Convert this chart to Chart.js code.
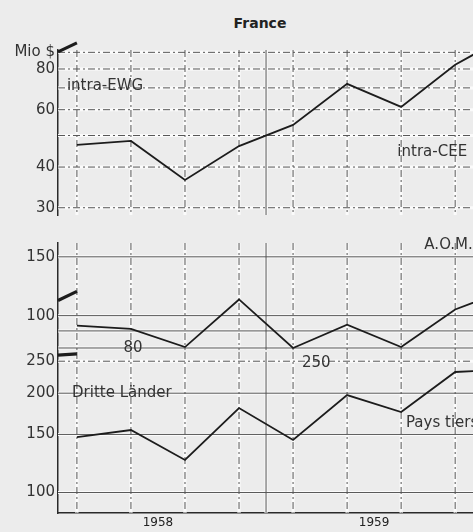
<!DOCTYPE html>
<html>
<head>
<meta charset="utf-8">
<title>France</title>
<script src="https://cdn.jsdelivr.net/npm/chart.js@4"></script>
<style>
    html, body { margin: 0; padding: 0; background: #ececec; }
    #page { position: relative; width: 473px; height: 532px; overflow: hidden; }
    #page canvas { position: absolute; left: 0; }
    #title {
        position: absolute; top: 15px; left: 200px; width: 120px;
        text-align: center; font: bold 14px "DejaVu Sans", sans-serif; color: #222;
    }
</style>
</head>
<body>
<div id="page">
    <div id="title">France</div>
    <canvas id="ewgChart" width="473" height="222" style="top:0"></canvas>
    <canvas id="aomChart" width="473" height="140" style="top:222px"></canvas>
    <canvas id="thirdChart" width="473" height="187" style="top:345px"></canvas>
</div>
<script>
/* ============================================
   DATA (quarterly, Mio $)
   ============================================ */
const quarters = ['1958 I', '1958 II', '1958 III', '1958 IV', '1959 I', '1959 II', '1959 III', '1959 IV', '1960 I'];
const years = ['1958', '1959'];
const yearCenters = [1.5, 5.5];
const yearBreak = 3.5;

const intraEwg = [46.8, 48.1, 36.5, 46.4, 53.9, 72.0, 61.2, 82.4, 102];
const aom = [93.3, 91.3, 80.5, 111.8, 80.0, 93.9, 80.5, 104.3, 120];
const dritteLaender = [147.3, 154.7, 125.5, 180.3, 144.3, 197.4, 175.4, 231.9, 236];

// short carry-over strokes at the left edge of each panel
const carryX = [-0.35, 0];
const carryEwg = [90.3, 96.2];
const carryAom = [111, 118.2];
const carryThird = [261, 263];

// axis ticks
const ewgTicks = [30, 40, 60, 80, 90];
const ewgTickLabels = ['30', '40', '60', '80', 'Mio $'];
const aomTicks = [100, 150];
const thirdTicks = [100, 150, 200, 250];

// grid lines
const ewgGrid = [30, 40, 50, 60, 70, 80, 90];
const aomGrid = [80, 90, 100, 150];
const thirdGridSolid = [100, 150, 200];
const thirdGridDashed = [250];

/* ============================================
   PLUGINS
   ============================================ */
const paperGrid = {
    id: 'paperGrid',
    beforeDatasetsDraw(chart, args, o) {
        const { ctx, chartArea: a, scales: { x, y } } = chart;
        const lines = [];
        (o.yDashed || []).forEach(v => { const p = y.getPixelForValue(v); lines.push([a.left, p, a.right, p, true]); });
        (o.ySolid || []).forEach(v => { const p = y.getPixelForValue(v); lines.push([a.left, p, a.right, p, false]); });
        (o.xDashed || []).forEach(v => { const p = x.getPixelForValue(v); lines.push([p, a.top, p, a.bottom, true]); });
        (o.xSolid || []).forEach(v => { const p = x.getPixelForValue(v); lines.push([p, a.top, p, a.bottom, false]); });

        ctx.save();
        // white halo first, then the printed line
        ctx.strokeStyle = '#fbfbfb';
        ctx.lineWidth = 3;
        lines.forEach(l => {
            ctx.beginPath(); ctx.moveTo(l[0], l[1]); ctx.lineTo(l[2], l[3]); ctx.stroke();
        });
        ctx.strokeStyle = '#555';
        ctx.lineWidth = 1;
        lines.forEach(l => {
            ctx.setLineDash(l[4] ? [7, 3, 2, 3] : []);
            ctx.beginPath(); ctx.moveTo(l[0], l[1]); ctx.lineTo(l[2], l[3]); ctx.stroke();
        });
        ctx.restore();
    },
    afterDatasetsDraw(chart, args, o) {
        const { ctx, scales: { x, y } } = chart;
        ctx.save();
        ctx.fillStyle = '#333';
        ctx.font = '15px "DejaVu Sans", sans-serif';
        ctx.textBaseline = 'middle';
        (o.labels || []).forEach(l => {
            ctx.textAlign = l.align || 'left';
            ctx.fillText(l.text, x.getPixelForValue(l.x), y.getPixelForValue(l.y));
        });
        ctx.restore();
    }
};

/* ============================================
   PANEL BUILDER
   ============================================ */
function makePanel(id, values, carry, cfg) {
    const points = values.map((v, i) => ({ x: i, y: v }));
    const stub = carryX.map((xv, i) => ({ x: xv, y: carry[i] }));
    return new Chart(document.getElementById(id), {
        type: 'line',
        data: {
            datasets: [{
                label: cfg.name,
                data: points,
                borderColor: '#1c1c1c',
                borderWidth: 1.8,
                pointRadius: 0,
                tension: 0
            }, {
                label: 'carry',
                data: stub,
                borderColor: '#1c1c1c',
                borderWidth: 3.2,
                pointRadius: 0,
                clip: false
            }]
        },
        options: {
            responsive: false,
            animation: false,
            layout: { padding: cfg.padding },
            plugins: {
                legend: { display: false },
                tooltip: { enabled: false },
                paperGrid: cfg.grid
            },
            scales: {
                x: {
                    type: 'linear',
                    min: -0.35,
                    max: 7.33,
                    display: cfg.showYears,
                    afterFit: s => { s.height = cfg.showYears ? 19 : 0; },
                    afterBuildTicks: s => { s.ticks = yearCenters.map(v => ({ value: v })); },
                    ticks: {
                        padding: 3,
                        color: '#222',
                        font: { family: 'DejaVu Sans', size: 12 },
                        callback: v => years[yearCenters.indexOf(v)]
                    },
                    grid: { display: true, color: 'rgba(0,0,0,0)', drawTicks: false },
                    border: { display: true, color: '#2a2a2a', width: 1.5 }
                },
                y: {
                    type: 'logarithmic',
                    min: cfg.min,
                    max: cfg.max,
                    afterFit: s => {
                        s.width = 58;
                        // labels may overhang the plot edges, so no extra room is needed
                        s.paddingTop = 0;
                        s.paddingBottom = 0;
                    },
                    afterBuildTicks: s => { s.ticks = cfg.ticks.map(v => ({ value: v })); },
                    ticks: {
                        padding: 3,
                        color: '#333',
                        font: { family: 'DejaVu Sans', size: 15 },
                        callback: v => cfg.tickLabels[cfg.ticks.indexOf(v)]
                    },
                    grid: { display: true, color: 'rgba(0,0,0,0)', drawTicks: false },
                    border: { display: true, color: '#2a2a2a', width: 1.5 }
                }
            }
        },
        plugins: [paperGrid]
    });
}

/* ============================================
   PANELS
   ============================================ */
const quarterIdx = quarters.slice(0, 8).map((q, i) => i);

makePanel('ewgChart', intraEwg, carryEwg, {
    name: 'intra-EWG',
    padding: { top: 50, bottom: 7, left: 0, right: 0 },
    min: 28.5, max: 91.5,
    ticks: ewgTicks, tickLabels: ewgTickLabels,
    showYears: false,
    grid: {
        yDashed: ewgGrid, xDashed: quarterIdx, xSolid: [yearBreak],
        labels: [
            { text: 'intra-EWG', x: -0.185, y: 70.9 },
            { text: 'intra-CEE', x: 5.93, y: 44.3 }
        ]
    }
});

makePanel('aomChart', aom, carryAom, {
    name: 'A.O.M.',
    padding: { top: 21, bottom: 12, left: 0, right: 0 },
    min: 78.9, max: 165,
    ticks: aomTicks, tickLabels: aomTicks.map(String),
    showYears: false,
    grid: {
        ySolid: aomGrid, xDashed: quarterIdx, xSolid: [yearBreak],
        labels: [
            { text: 'A.O.M.', x: 6.43, y: 163 },
            { text: '80', x: 1.04, y: 80, align: 'center' }
        ]
    }
});

makePanel('thirdChart', dritteLaender, carryThird, {
    name: 'Dritte Länder',
    padding: { top: 7, bottom: 0, left: 0, right: 0 },
    min: 86.7, max: 266.6,
    ticks: thirdTicks, tickLabels: thirdTicks.map(String),
    showYears: true,
    grid: {
        ySolid: thirdGridSolid, yDashed: thirdGridDashed, xDashed: quarterIdx, xSolid: [yearBreak],
        labels: [
            { text: 'Dritte Länder', x: -0.09, y: 200 },
            { text: 'Pays tiers', x: 6.09, y: 162.5 },
            { text: '250', x: 4.43, y: 247, align: 'center' }
        ]
    }
});
</script>
</body>
</html>
